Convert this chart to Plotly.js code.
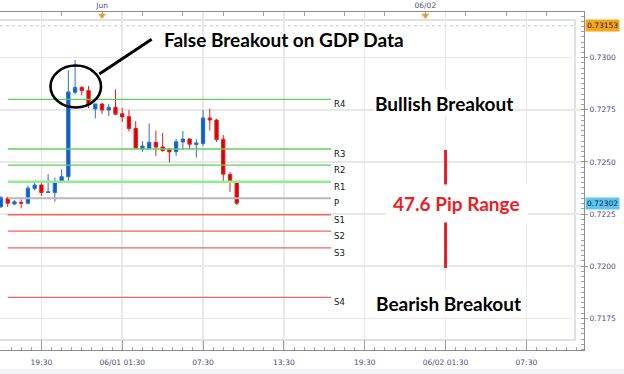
<!DOCTYPE html>
<html>
<head>
<meta charset="utf-8">
<script src="https://cdn.plot.ly/plotly-3.0.1.min.js"></script>
<style>html,body{margin:0;padding:0;background:#fff}#chart{width:624px;height:374px}</style>
</head>
<body>
<div id="chart"></div>
<script>
// ---- data ----
const times = [
 '2016-05-31 16:30','2016-05-31 17:00','2016-05-31 17:30','2016-05-31 18:00','2016-05-31 18:30','2016-05-31 19:00',
 '2016-05-31 19:30','2016-05-31 20:00','2016-05-31 20:30','2016-05-31 21:00','2016-05-31 21:30','2016-05-31 22:00',
 '2016-05-31 22:30','2016-05-31 23:00','2016-05-31 23:30','2016-06-01 00:00','2016-06-01 00:30','2016-06-01 01:00',
 '2016-06-01 01:30','2016-06-01 02:00','2016-06-01 02:30','2016-06-01 03:00','2016-06-01 03:30','2016-06-01 04:00',
 '2016-06-01 04:30','2016-06-01 05:00','2016-06-01 05:30','2016-06-01 06:00','2016-06-01 06:30','2016-06-01 07:00',
 '2016-06-01 07:30','2016-06-01 08:00','2016-06-01 08:30','2016-06-01 09:00','2016-06-01 09:30','2016-06-01 10:00'
];
const opens  = [0.72285,0.72326,0.72298,0.72306,0.72302,0.72373,0.72389,0.72353,0.72353,0.72405,0.72429,0.72834,
                0.72857,0.72842,0.72754,0.72778,0.72749,0.72762,0.72731,0.72717,0.72661,0.72562,0.72565,0.72594,
                0.72572,0.72559,0.72549,0.72596,0.72610,0.72584,0.72588,0.72711,0.72701,0.72609,0.72440,0.72404];
const highs  = [0.72337,0.72333,0.72317,0.72320,0.72387,0.72409,0.72398,0.72441,0.72425,0.72465,0.72939,0.72989,
                0.72864,0.72864,0.72779,0.72781,0.72778,0.72848,0.72759,0.72749,0.72696,0.72600,0.72685,0.72651,
                0.72639,0.72565,0.72610,0.72648,0.72613,0.72609,0.72749,0.72755,0.72707,0.72629,0.72452,0.72405];
const lows   = [0.72279,0.72285,0.72293,0.72277,0.72296,0.72363,0.72337,0.72352,0.72309,0.72399,0.72398,0.72824,
                0.72819,0.72757,0.72709,0.72730,0.72720,0.72725,0.72692,0.72646,0.72562,0.72549,0.72562,0.72529,
                0.72549,0.72498,0.72529,0.72557,0.72560,0.72521,0.72576,0.72651,0.72596,0.72398,0.72356,0.72293];
const closes = [0.72328,0.72302,0.72309,0.72302,0.72374,0.72389,0.72353,0.72356,0.72406,0.72429,0.72836,0.72857,
                0.72842,0.72775,0.72778,0.72749,0.72762,0.72729,0.72716,0.72660,0.72565,0.72576,0.72594,0.72571,
                0.72554,0.72548,0.72597,0.72610,0.72585,0.72591,0.72711,0.72701,0.72607,0.72441,0.72404,0.72302];

const pivotNames  = ['R4','R3','R2','R1','P','S1','S2','S3','S4'];
const pivotValues = [0.72800,0.72562,0.72485,0.72405,0.72326,0.72247,0.72168,0.72088,0.71850];
const pivotStart = '2016-05-31 17:00';
const pivotEnd   = '2016-06-01 17:00';

const xTickVals = ['2016-05-31 19:30','2016-06-01 01:30','2016-06-01 07:30','2016-06-01 13:30','2016-06-01 19:30','2016-06-02 01:30','2016-06-02 07:30'];
const xTickText = ['19:30','06/01 01:30','07:30','13:30','19:30','06/02 01:30','07:30'];
const topTickVals = ['2016-05-31 21:00','2016-06-01 00:00','2016-06-01 03:00','2016-06-01 06:00','2016-06-01 09:00','2016-06-01 12:00',
                     '2016-06-01 15:00','2016-06-01 18:00','2016-06-01 21:00','2016-06-02 00:00','2016-06-02 03:00','2016-06-02 06:00','2016-06-02 09:00'];
const topTickText = ['','Jun','','','','','','','','06/02','','',''];
const dayMarks = ['2016-06-01 00:00','2016-06-02 00:00'];
const yTickVals = [0.7175,0.7200,0.7225,0.7250,0.7275,0.7300];
const flagValues = [0.73153, 0.72302];
const flagColors = ['#f7a51c', '#5cc6f2'];
const rangeTime = '2016-06-02 01:30';
const rangeTop = 0.72557, rangeBottom = 0.71991;

// ---- styling ----
const xRange = ['2016-05-31 16:25:36','2016-06-02 11:46:36'];
const yRange = [0.715978, 0.732192];
const axisGray = '#8c8c8c';
const tickFont = {family:'DejaVu Sans', size:7.5, color:'#4a4a7c'};
const pivotStyle = {
  R4:{c:'#5fcf5f',w:1.3}, R3:{c:'#5fcf5f',w:1.3}, R2:{c:'#5fcf5f',w:1.3}, R1:{c:'#90ee90',w:2.6},
  P:{c:'#b9b9b9',w:2}, S1:{c:'#f06565',w:1.5}, S2:{c:'#f06565',w:1.2}, S3:{c:'#f06565',w:1.2}, S4:{c:'#f06565',w:1.2}
};

const traces = [];
pivotNames.forEach((n,i)=>{
  traces.push({type:'scatter', mode:'lines', x:[pivotStart,pivotEnd], y:[pivotValues[i],pivotValues[i]],
    line:{color:pivotStyle[n].c, width:pivotStyle[n].w}, hoverinfo:'skip', showlegend:false});
});
traces.push({type:'candlestick', x:times, open:opens, high:highs, low:lows, close:closes,
  increasing:{line:{color:'#2a6fcf',width:1}, fillcolor:'#0b5ec6'},
  decreasing:{line:{color:'#e51c1c',width:1}, fillcolor:'#dc0000'},
  whiskerwidth:0, hoverinfo:'skip', showlegend:false});
traces.push({type:'scatter', mode:'markers', xaxis:'x2', yaxis:'y', x:dayMarks, y:dayMarks.map(()=>0.73203),
  marker:{symbol:'triangle-down', size:7, color:'#f5a020'}, cliponaxis:false, hoverinfo:'skip', showlegend:false});

const innerR = 575/584, innerB = (350-340)/338, innerT = (350-20)/338;
const shapes = [
  {type:'rect', xref:'paper', yref:'paper', x0:innerR, x1:1, y0:0, y1:1, fillcolor:'#fff', line:{width:0}, layer:'between'},
  {type:'rect', xref:'paper', yref:'paper', x0:0, x1:1, y0:0, y1:innerB, fillcolor:'#fff', line:{width:0}, layer:'between'},
  {type:'rect', xref:'paper', yref:'paper', x0:0, x1:1, y0:innerT, y1:1, fillcolor:'#fff', line:{width:0}, layer:'between'},
  {type:'rect', xref:'paper', yref:'paper', x0:-0.01, x1:innerR, y0:innerB, y1:innerT, line:{color:'#d3d8e0', width:1.5}, layer:'between'},
  {type:'line', xref:'paper', yref:'y', x0:0, x1:innerR, y0:flagValues[0], y1:flagValues[0], line:{color:'#c8c8c8', width:1, dash:'dot'}, layer:'between'},
  {type:'circle', xref:'x', yref:'y', x0:'2016-05-31 20:10:30', x1:'2016-05-31 23:55:30', y0:0.727611, y1:0.729626, line:{color:'#000', width:2.6}},
  {type:'line', xref:'x', yref:'y', x0:'2016-05-31 23:48', x1:'2016-06-01 03:41', y0:0.729218, y1:0.730883, line:{color:'#000', width:3}},
  {type:'line', xref:'x', yref:'y', x0:rangeTime, x1:rangeTime, y0:rangeTop, y1:rangeBottom, line:{color:'#ec1c24', width:3}},
  {type:'rect', xref:'paper', yref:'paper', x0:0, x1:624/584, y0:(350-374)/338, y1:(350-369)/338, fillcolor:'#f3f3f7', line:{width:0}}
];

const annotations = [];
pivotNames.forEach((n,i)=>{
  annotations.push({x:pivotEnd, y:pivotValues[i], xref:'x', yref:'y', text:n, showarrow:false,
    xanchor:'left', yanchor:'middle', xshift:1, yshift:-5, font:{family:'DejaVu Sans', size:8.5, color:'#111'}});
});
const bigFont = (c)=>({family:'Lato', size:19, color:c});
const big = (px, py, text, color, extra) => Object.assign({xref:'paper', yref:'paper', x:px/584, y:(350-py)/338,
  xanchor:'center', yanchor:'middle', text:'<b>'+text+'</b>', showarrow:false, font:bigFont(color)}, extra||{});
annotations.push(big(283.5, 40, 'False Breakout on GDP Data', '#000'));
annotations.push(big(443.5, 104, 'Bullish Breakout', '#000', {bgcolor:'#fff'}));
annotations.push(big(448.5, 303, 'Bearish Breakout', '#000', {bgcolor:'#fff'}));
annotations.push(big(456, 203, '47.6 Pip Range', '#ec1c24', {bgcolor:'#fff', borderpad:7}));
flagValues.forEach((v,i)=>{
  annotations.push({xref:'paper', yref:'y', x:1, y:v, xanchor:'left', yanchor:'middle', xshift:1, text:v.toFixed(5), showarrow:false,
    bgcolor:flagColors[i], borderpad:1, font:{family:'DejaVu Sans', size:7.5, color:'#1a1a3a'}});
});

const layout = {
  width:624, height:374, margin:{l:0, r:40, t:12, b:24, pad:0},
  paper_bgcolor:'#fff', plot_bgcolor:'#fff', showlegend:false, dragmode:false,
  xaxis:{type:'date', range:xRange, tickmode:'array', tickvals:xTickVals, ticktext:xTickText, tickfont:tickFont,
    showgrid:true, gridcolor:'#e8e8e8', gridwidth:1.5, ticks:'inside', ticklen:10, tickcolor:'#a0a0a0', ticklabelstandoff:5,
    showline:true, linecolor:axisGray, linewidth:1, zeroline:false, rangeslider:{visible:false}, fixedrange:true,
    minor:{tickmode:'linear', tick0:'2016-05-31 19:30', dtick:2700000, ticks:'inside', ticklen:3, tickcolor:'#a0a0a0', showgrid:false}},
  xaxis2:{type:'date', overlaying:'x', side:'top', anchor:'y', range:xRange, tickmode:'array', tickvals:topTickVals, ticktext:topTickText,
    tickfont:tickFont, ticks:'inside', ticklen:4, tickcolor:'#a0a0a0', showline:true, linecolor:axisGray, showgrid:false, zeroline:false, fixedrange:true},
  yaxis:{side:'right', range:yRange, tickmode:'array', tickvals:yTickVals, tickformat:'.4f', tickfont:tickFont,
    showgrid:true, gridcolor:'#e8e8e8', gridwidth:1.5, ticks:'outside', ticklen:3, tickcolor:'#a0a0a0',
    showline:true, linecolor:axisGray, zeroline:false, fixedrange:true,
    minor:{tickmode:'linear', tick0:0.7175, dtick:0.00025, ticks:'inside', ticklen:3, tickcolor:'#a0a0a0', showgrid:false}},
  shapes:shapes, annotations:annotations
};
Plotly.newPlot('chart', traces, layout, {staticPlot:true, displayModeBar:false});
</script>
</body>
</html>
